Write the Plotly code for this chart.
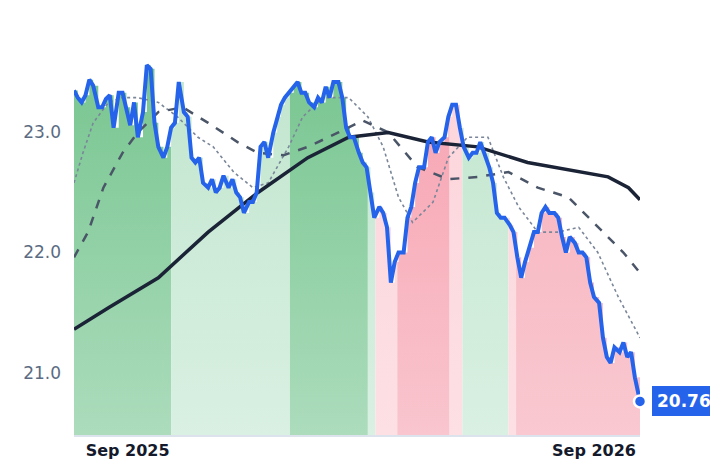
import datetime as dt
import plotly.graph_objects as go

start = dt.date(2025, 7, 21)

price = [23.35, 23.29, 23.25, 23.31, 23.44, 23.39, 23.21, 23.21, 23.28, 23.31, 23.04, 23.33, 23.33, 23.21,
         23.06, 23.25, 22.96, 23.17, 23.56, 23.53, 23.08, 22.88, 22.79, 22.88, 23.04, 23.08, 23.42, 23.17,
         23.13, 22.79, 22.75, 22.79, 22.58, 22.54, 22.61, 22.50, 22.54, 22.64, 22.54, 22.61, 22.50, 22.46,
         22.33, 22.42, 22.42, 22.50, 22.88, 22.92, 22.79, 23.00, 23.13, 23.23, 23.29, 23.33, 23.39, 23.42,
         23.33, 23.33, 23.25, 23.21, 23.29, 23.25, 23.38, 23.29, 23.42, 23.42, 23.29, 23.04, 22.96, 22.96,
         22.83, 22.75, 22.71, 22.50, 22.29, 22.38, 22.33, 22.21, 21.75, 21.92, 22.00, 22.00, 22.29, 22.38,
         22.58, 22.71, 22.71, 22.92, 22.96, 22.83, 22.92, 22.96, 23.13, 23.23, 23.23, 23.04, 22.88, 22.79,
         22.83, 22.83, 22.92, 22.83, 22.71, 22.58, 22.33, 22.29, 22.29, 22.23, 22.17, 21.96, 21.79, 21.92,
         22.04, 22.17, 22.17, 22.33, 22.38, 22.33, 22.33, 22.29, 22.13, 22.00, 22.13, 22.08, 22.00, 22.00,
         21.96, 21.75, 21.63, 21.58, 21.29, 21.13, 21.08, 21.21, 21.17, 21.25, 21.13, 21.17, 20.96, 20.76]

long_days = [0, 27, 66, 105, 144, 183, 215, 246, 277, 316, 355, 387, 418, 434, 443]
long_ma = [21.36, 21.54, 21.79, 22.17, 22.50, 22.79, 22.96, 23.00, 22.92, 22.88, 22.75, 22.69, 22.63, 22.54, 22.44]

mid_days = [0, 11, 23, 38, 50, 66, 85, 105, 128, 144, 164, 183, 207, 226, 246, 269, 293, 316, 340, 363,
            387, 410, 430, 443]
mid_ma = [21.96, 22.17, 22.54, 22.83, 23.00, 23.17, 23.21, 23.08, 22.92, 22.83, 22.81, 22.88, 23.00, 23.10,
          23.00, 22.71, 22.61, 22.63, 22.67, 22.54, 22.46, 22.21, 22.00, 21.83]

short_days = [0, 7, 15, 27, 38, 50, 66, 81, 97, 109, 125, 140, 152, 168, 179, 195, 215, 230, 242, 254, 265,
              281, 293, 308, 324, 336, 348, 363, 379, 395, 410, 426, 443]
short_ma = [22.58, 22.83, 23.08, 23.25, 23.29, 23.29, 23.25, 23.13, 22.96, 22.88, 22.67, 22.54, 22.58, 22.88,
            23.13, 23.29, 23.29, 23.13, 22.88, 22.46, 22.25, 22.42, 22.79, 22.96, 22.96, 22.63, 22.38, 22.17,
            22.17, 22.21, 22.00, 21.63, 21.29]

# regime bands: (start day, end day, kind)
bands = [(0, 76, "up"), (76, 169, "up_soft"), (169, 230, "up"), (230, 236, "up_soft"), (236, 253, "down_soft"),
         (253, 294, "down"), (294, 304, "down_soft"), (304, 340, "up_soft"), (340, 346, "down_soft"),
         (346, 443, "down2")]
band_colors = {
    "up": ("#acdcbc", "#79c691"),
    "up_soft": ("#d9f0e2", "#c2e6cf"),
    "down_soft": ("#fde0e4", "#fcd5db"),
    "down": ("#f9c5ce", "#f7a3b1"),
    "down2": ("#f9c8d0", "#f7b1bd"),
}
base = 20.48
end_day = 443


def day(d):
    return start + dt.timedelta(days=d)


step_days = end_day / (len(price) - 1)
price_days = [i * step_days for i in range(len(price))]
price_x = [day(d) for d in price_days]

fig = go.Figure()
for b0, b1, kind in bands:
    xs, ys = [], []
    prev = price[0]
    for d, v in zip(price_days, price):
        if d <= b0:
            prev = v
    xs.append(day(b0)); ys.append(prev)
    for d, v in zip(price_days, price):
        if b0 < d < b1:
            xs.append(day(d)); ys.append(v)
    xs.append(day(b1)); ys.append(ys[-1])
    lo, hi = band_colors[kind]
    fig.add_trace(go.Scatter(x=xs, y=ys, mode="lines", line=dict(width=0, shape="hv"), fill="tozeroy",
                             fillgradient=dict(type="vertical", start=base, stop=23.5,
                                               colorscale=[[0, lo], [1, hi]]),
                             hoverinfo="skip", showlegend=False))

fig.add_trace(go.Scatter(x=[day(d) for d in short_days], y=short_ma, mode="lines",
                         line=dict(color="#7a8699", width=1.6, dash="dot"), showlegend=False))
fig.add_trace(go.Scatter(x=[day(d) for d in mid_days], y=mid_ma, mode="lines",
                         line=dict(color="#4a5568", width=2.5, dash="dash"), showlegend=False))
fig.add_trace(go.Scatter(x=[day(d) for d in long_days], y=long_ma, mode="lines",
                         line=dict(color="#1b2336", width=3.5), showlegend=False))
fig.add_trace(go.Scatter(x=price_x, y=price, mode="lines", line=dict(color="#2563eb", width=4),
                         showlegend=False))
fig.add_trace(go.Scatter(x=[price_x[-1]], y=[price[-1]], mode="markers", cliponaxis=False,
                         marker=dict(color="#2563eb", size=12, line=dict(color="white", width=2.5)),
                         showlegend=False))
fig.add_annotation(x=price_x[-1], y=price[-1], text="<b>%.2f</b>" % price[-1], showarrow=False,
                   xanchor="left", xshift=12, bgcolor="#2563eb", bordercolor="#2563eb", borderpad=4,
                   font=dict(color="white", size=17, family="DejaVu Sans"))

fig.update_layout(
    width=718, height=464, margin=dict(l=66, r=86, t=20, b=37),
    plot_bgcolor="white", paper_bgcolor="white",
    font=dict(family="DejaVu Sans"),
    xaxis=dict(range=[day(0), day(end_day)], showgrid=False, zeroline=False, automargin=False,
               tickvals=[dt.date(2025, 9, 1), dt.date(2026, 9, 1)], ticktext=["Sep 2025", "Sep 2026"],
               tickfont=dict(size=16, color="#141a2b", weight="bold"), ticks="",
               showline=True, linecolor="#dde3ec", linewidth=2),
    yaxis=dict(range=[base, 23.87], showgrid=False, zeroline=False, tickvals=[21, 22, 23], automargin=False,
               tickformat=".1f", tickfont=dict(size=17, color="#5b6b82"), ticks="", ticklabelstandoff=12),
)
fig.write_html("out.html")
